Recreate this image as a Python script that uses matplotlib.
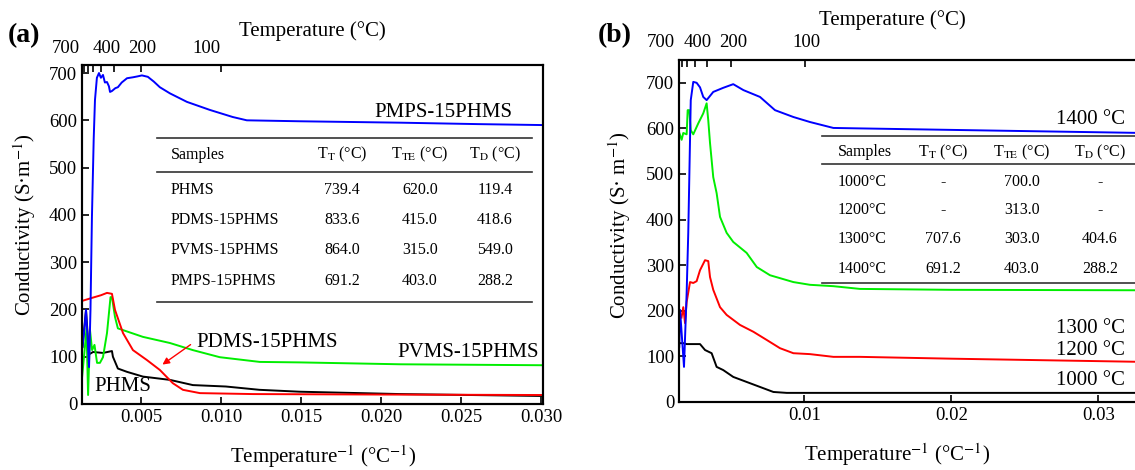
import matplotlib.pyplot as plt
from matplotlib import transforms

plt.rcParams['font.family'] = 'Liberation Serif'
plt.rcParams['mathtext.fontset'] = 'stix'

# ---- (a) conductivity vs 1/T, four precursors ----
pmps_x = [0.00135, 0.00150, 0.00157, 0.00165, 0.00176, 0.00185, 0.00194, 0.00205, 0.00213, 0.00225,
          0.00238, 0.00250, 0.00263, 0.00275, 0.00288, 0.00300, 0.00307, 0.00319, 0.00340, 0.00356,
          0.00380, 0.00413, 0.00450, 0.00480, 0.00506, 0.00543, 0.00580, 0.00618, 0.00681, 0.00787,
          0.00930, 0.01073, 0.01161, 0.0149, 0.0212, 0.0260, 0.0300]
pmps_y = [121, 170, 199, 150, 78, 200, 395, 560, 643, 690,
          700, 690, 696, 680, 681, 672, 660, 662, 668, 670,
          680, 689, 691, 693, 695, 692, 682, 670, 657, 639,
          622, 607, 600, 598, 595, 592, 590]

pdms_x = [0.00132, 0.00200, 0.00250, 0.00288, 0.00319, 0.00338, 0.00388, 0.00450, 0.00537, 0.00618,
          0.00699, 0.00762, 0.00868, 0.0120, 0.0200, 0.0300]
pdms_y = [218, 225, 230, 235, 233, 199, 150, 114, 93, 72,
          44, 30, 23, 21, 20, 19]

pvms_x = [0.00132, 0.00150, 0.00160, 0.00170, 0.00182, 0.00195, 0.00210, 0.00226, 0.00244, 0.00263,
          0.00288, 0.00310, 0.00319, 0.00338, 0.00356, 0.00512, 0.00681, 0.00824, 0.00992, 0.01242,
          0.0149, 0.0212, 0.0300]
pvms_y = [55, 120, 160, 19, 156, 114, 125, 87, 87, 99,
          150, 226, 226, 184, 160, 142, 129, 114, 99, 89,
          88, 84, 82]

phms_x = [0.00135, 0.00157, 0.00176, 0.00201, 0.00263, 0.00319, 0.00325, 0.00356, 0.00413, 0.00512,
          0.00681, 0.00824, 0.0103, 0.0124, 0.0149, 0.0212, 0.0300]
phms_y = [120, 199, 105, 110, 108, 112, 100, 75, 68, 58,
          51, 40, 37, 30, 26, 21, 17]

# ---- (b) PMPS-15PHMS pyrolysed at different temperatures ----
t1400_x = [0.00150, 0.00155, 0.00182, 0.00200, 0.00211, 0.00228, 0.00245, 0.00268, 0.00291, 0.00313,
           0.00336, 0.00381, 0.00449, 0.00517, 0.00586, 0.00699, 0.00801, 0.00926, 0.01039, 0.01198,
           0.01379, 0.02332, 0.0330]
t1400_y = [121, 202, 77, 239, 371, 662, 702, 700, 690, 669,
           662, 680, 689, 697, 684, 669, 640, 625, 614, 601,
           600, 595, 590]

t1300_x = [0.00150, 0.00166, 0.00177, 0.00200, 0.00207, 0.00218, 0.00228, 0.00245, 0.00279, 0.00313,
           0.00336, 0.00347, 0.00359, 0.00381, 0.00404, 0.00427, 0.00472, 0.00517, 0.00608, 0.00677,
           0.00767, 0.00926, 0.01039, 0.01198, 0.01379, 0.0200, 0.0330]
t1300_y = [590, 575, 590, 587, 640, 640, 596, 587, 611, 633,
           655, 618, 568, 493, 458, 406, 371, 351, 327, 296,
           278, 263, 257, 254, 248, 246, 245]

t1200_x = [0.00165, 0.00177, 0.00189, 0.00200, 0.00223, 0.00245, 0.00268, 0.00291, 0.00325, 0.00347,
           0.00359, 0.00381, 0.00427, 0.00472, 0.00563, 0.00654, 0.00745, 0.00835, 0.00926, 0.01039,
           0.01198, 0.01379, 0.0200, 0.0330]
t1200_y = [185, 208, 173, 219, 263, 261, 265, 289, 311, 309,
           274, 246, 208, 191, 169, 154, 136, 118, 107, 105,
           99, 99, 95, 88]

t1000_x = [0.00150, 0.00177, 0.00200, 0.00245, 0.00291, 0.00325, 0.00370, 0.00404, 0.00449, 0.00517,
           0.00608, 0.00699, 0.00790, 0.00881, 0.01379, 0.0330]
t1000_y = [129, 129, 127, 127, 127, 114, 107, 77, 70, 55,
           44, 33, 22, 20, 20, 20]

# top axis: temperature in degC at 1/T
top_ticks_T = [700, 600, 500, 400, 300, 200, 100]
top_labels = ['700', '400', '200', '100']
top_label_x_a = [0.00032, 0.00288, 0.00506, 0.00911]
top_label_x_b = [0.00026, 0.00277, 0.00515, 0.01012]

# inset tables
tab_cols = ['Samples', r'T$_\mathrm{T}$ (°C)', r'T$_\mathrm{TE}$ (°C)', r'T$_\mathrm{D}$ (°C)']
tab_a_rows = [['PHMS', '739.4', '620.0', '119.4'],
              ['PDMS-15PHMS', '833.6', '415.0', '418.6'],
              ['PVMS-15PHMS', '864.0', '315.0', '549.0'],
              ['PMPS-15PHMS', '691.2', '403.0', '288.2']]
tab_b_rows = [['1000°C', '-', '700.0', '-'],
              ['1200°C', '-', '313.0', '-'],
              ['1300°C', '707.6', '303.0', '404.6'],
              ['1400°C', '691.2', '403.0', '288.2']]

W, H = 1135, 470
fig = plt.figure(figsize=(W / 100, H / 100), dpi=100)
ax_a = fig.add_axes([82 / W, 1 - 404 / H, 461 / W, 339 / H])
ax_b = fig.add_axes([679 / W, 1 - 402 / H, 461 / W, 342 / H])

ax_a.plot(phms_x, phms_y, color='black', lw=1.4)
ax_a.plot(pvms_x, pvms_y, color='#00ee00', lw=1.4)
ax_a.plot(pdms_x, pdms_y, color='red', lw=1.4)
ax_a.plot(pmps_x, pmps_y, color='blue', lw=1.4)
ax_a.set_xlim(0.00132, 0.0301)
ax_a.set_ylim(0, 717)
ax_a.set_xticks([0.005, 0.010, 0.015, 0.020, 0.025, 0.030])
ax_a.set_xticklabels(['0.005', '0.010', '0.015', '0.020', '0.025', '0.030'])

ax_b.plot(t1000_x, t1000_y, color='black', lw=1.4)
ax_b.plot(t1200_x, t1200_y, color='red', lw=1.4)
ax_b.plot(t1300_x, t1300_y, color='#00ee00', lw=1.4)
ax_b.plot(t1400_x, t1400_y, color='blue', lw=1.4)
ax_b.set_xlim(0.00148, 0.03284)
ax_b.set_ylim(0, 750)
ax_b.set_xticks([0.01, 0.02, 0.03])
ax_b.set_xticklabels(['0.01', '0.02', '0.03'])

for ax, lab_x in [(ax_a, top_label_x_a), (ax_b, top_label_x_b)]:
    ax.set_yticks(range(0, 800, 100))
    ax.tick_params(direction='in', length=5, width=1.2, labelsize=13.5, top=False, right=False)
    for s in ax.spines.values():
        s.set_linewidth(1.5)
    top = ax.twiny()
    top.set_xlim(ax.get_xlim())
    top.set_xticks([1.0 / t for t in top_ticks_T])
    top.set_xticklabels([])
    top.tick_params(direction='in', length=5, width=1.2)
    for s in top.spines.values():
        s.set_linewidth(1.5)
    trans = transforms.blended_transform_factory(ax.transData, ax.transAxes)
    for lx, lt in zip(lab_x, top_labels):
        ax.text(lx, 1.05, lt, transform=trans, ha='center', va='center',
                fontsize=13.5, clip_on=False)

# curve labels
ax_a.text(0.783, 0.861, 'PMPS-15PHMS', transform=ax_a.transAxes, ha='center', va='center', fontsize=15)
ax_a.text(0.837, 0.153, 'PVMS-15PHMS', transform=ax_a.transAxes, ha='center', va='center', fontsize=15)
ax_a.text(0.401, 0.180, 'PDMS-15PHMS', transform=ax_a.transAxes, ha='center', va='center', fontsize=15)
ax_a.text(0.089, 0.053, 'PHMS', transform=ax_a.transAxes, ha='center', va='center', fontsize=15)
ax_a.annotate('', xy=(0.0062, 80), xytext=(0.00824, 129),
              arrowprops=dict(arrowstyle='-|>', color='red', lw=1.0, mutation_scale=10))

for ty, txt in [(0.827, '1400 °C'), (0.216, '1300 °C'), (0.152, '1200 °C'), (0.064, '1000 °C')]:
    ax_b.text(0.967, ty, txt, transform=ax_b.transAxes, ha='right', va='center', fontsize=15)


def draw_table(ax, rows, x0, x1, y_lines, y_head, y_rows, col_x):
    for yl in y_lines:
        ax.plot([x0, x1], [yl, yl], transform=ax.transAxes, color='#333333', lw=1.2, clip_on=False)
    aligns = ['left', 'center', 'center', 'center']
    for cx, head, al in zip(col_x, tab_cols, aligns):
        ax.text(cx, y_head, head, transform=ax.transAxes, ha=al, va='center', fontsize=11.5)
    for ry, row in zip(y_rows, rows):
        for cx, cell, al in zip(col_x, row, aligns):
            ax.text(cx, ry, cell, transform=ax.transAxes, ha=al, va='center', fontsize=11.5)


draw_table(ax_a, tab_a_rows, 0.163, 0.976, [0.785, 0.684, 0.301], 0.735,
           [0.631, 0.543, 0.454, 0.363], [0.193, 0.564, 0.733, 0.896])
draw_table(ax_b, tab_b_rows, 0.310, 1.0, [0.778, 0.696, 0.348], 0.731,
           [0.643, 0.561, 0.477, 0.389], [0.345, 0.573, 0.744, 0.913])

# axis titles and panel letters
fig.text(312 / W, 1 - 31 / H, 'Temperature (°C)', ha='center', va='center', fontsize=15)
fig.text(892 / W, 1 - 20 / H, 'Temperature (°C)', ha='center', va='center', fontsize=15)
fig.text(323 / W, 1 - 457 / H, r'Temperature$^{-1}$ (°C$^{-1}$)', ha='center', va='center', fontsize=15)
fig.text(897 / W, 1 - 455 / H, r'Temperature$^{-1}$ (°C$^{-1}$)', ha='center', va='center', fontsize=15)
fig.text(25 / W, 1 - 225 / H, r'Conductivity (S·m$^{-1}$)', ha='center', va='center', rotation=90, fontsize=15)
fig.text(620 / W, 1 - 225 / H, r'Conductivity (S· m$^{-1}$)', ha='center', va='center', rotation=90, fontsize=15)
fig.text(24 / W, 1 - 36 / H, '(a)', ha='center', va='center', fontsize=20, fontweight='bold')
fig.text(615 / W, 1 - 36 / H, '(b)', ha='center', va='center', fontsize=20, fontweight='bold')

fig.savefig('out.png', dpi=100)
